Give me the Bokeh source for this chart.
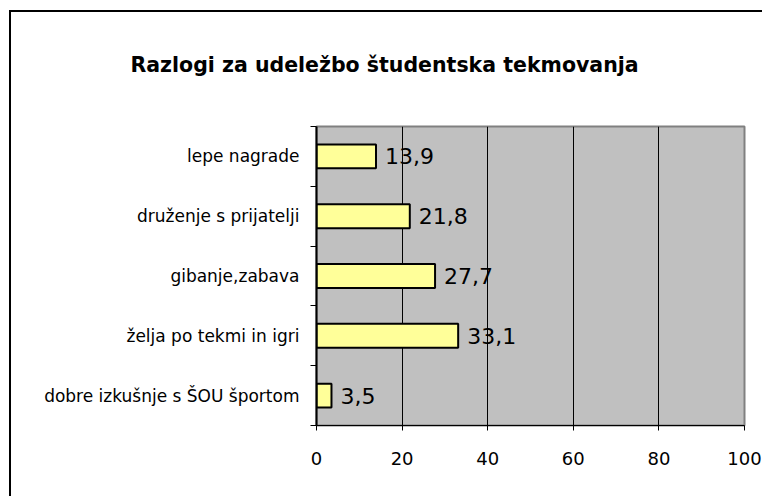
from bokeh.plotting import figure
from bokeh.models import ColumnDataSource, FixedTicker, LabelSet, Title
from bokeh.core.properties import value
from bokeh.embed import file_html
from bokeh.resources import INLINE

title = "Razlogi za udeležbo študentska tekmovanja"
categories = ["dobre izkušnje s ŠOU športom", "želja po tekmi in igri",
              "gibanje,zabava", "druženje s prijatelji", "lepe nagrade"]
values = [3.5, 33.1, 27.7, 21.8, 13.9]
value_labels = ["3,5", "33,1", "27,7", "21,8", "13,9"]
x_ticks = [0, 20, 40, 60, 80, 100]

FONT = "DejaVu Sans"

ypos = [i + 0.5 for i in range(len(categories))]
src = ColumnDataSource(dict(y=ypos, v=values, lab=value_labels))

p = figure(width=762, height=496, output_backend="svg", toolbar_location=None,
           x_range=(0, 100), y_range=(0, len(categories)),
           min_border_left=316, min_border_right=18, min_border_top=125, min_border_bottom=71)
p.styles = {"box-shadow": "inset 9px 10px 0 0 white, inset 11px 12px 0 0 black"}
p.background_fill_color = "#C0C0C0"
p.border_fill_alpha = 0
p.outline_line_color = "#808080"
p.outline_line_width = 2

p.hbar(y="y", right="v", left=0, height=0.4, source=src,
       fill_color="#FFFF99", line_color="black", line_width=2)

p.add_layout(LabelSet(x="v", y="y", text="lab", source=src, x_offset=9,
                      text_align="left", text_baseline="middle",
                      text_font=value(FONT), text_font_size="22px", text_color="black"))

# x axis
p.xaxis.ticker = FixedTicker(ticks=x_ticks)
p.xaxis.major_tick_in = 0
p.xaxis.major_tick_out = 5
p.xaxis.minor_tick_line_color = None
p.xaxis.axis_line_color = "black"
p.xaxis.axis_line_width = 1
p.xaxis.major_label_standoff = 21
p.xaxis.major_label_text_font = FONT
p.xaxis.major_label_text_font_size = "18px"
p.xaxis.major_label_text_color = "black"

# y axis
p.yaxis.ticker = FixedTicker(ticks=ypos, minor_ticks=list(range(len(categories) + 1)))
p.yaxis.major_label_overrides = {y: c for y, c in zip(ypos, categories)}
p.yaxis.major_tick_line_color = None
p.yaxis.major_tick_in = 0
p.yaxis.major_tick_out = 0
p.yaxis.minor_tick_in = 0
p.yaxis.minor_tick_out = 6
p.yaxis.minor_tick_line_color = "black"
p.yaxis.axis_line_color = "black"
p.yaxis.axis_line_width = 2
p.yaxis.major_label_standoff = 11
p.yaxis.major_label_text_font = FONT
p.yaxis.major_label_text_font_size = "17px"
p.yaxis.major_label_text_color = "black"

p.xgrid.ticker = FixedTicker(ticks=x_ticks[1:-1])
p.xgrid.grid_line_color = "black"
p.xgrid.grid_line_width = 1
p.ygrid.grid_line_color = None

p.add_layout(Title(text=title, align="left", offset=-186, standoff=100,
                   text_font=FONT, text_font_size="20.5px", text_font_style="bold",
                   text_color="black"), "above")

open("out.html", "w").write(file_html(p, INLINE))
